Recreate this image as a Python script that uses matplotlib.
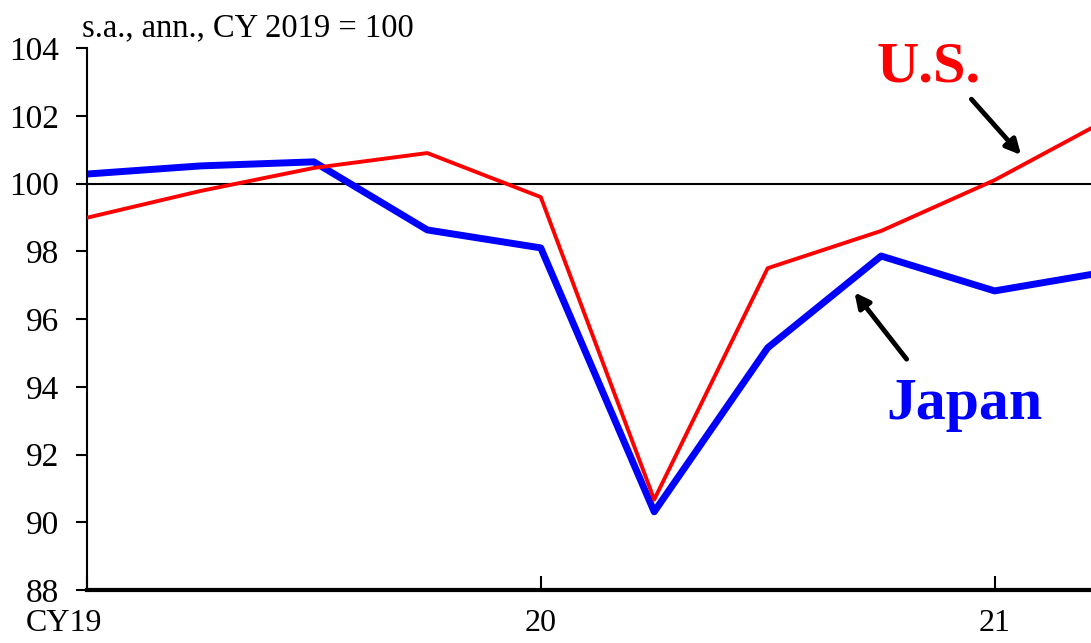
import numpy as np
import matplotlib.pyplot as plt
import matplotlib.transforms as mtransforms

plt.rcParams['font.family'] = ['Liberation Serif', 'DejaVu Serif']

# quarters from CY2019 Q1 to CY2021 Q2
quarters = np.arange(10)
japan = [100.28, 100.52, 100.64, 98.63, 98.1, 90.31, 95.15, 97.86, 96.83, 97.4]
us = [98.99, 99.78, 100.46, 100.9, 99.6, 90.67, 97.5, 98.6, 100.1, 101.9]
xtick_pos = [0, 4, 8]
xtick_labels = ['CY19', '20', '21']
yticks = np.arange(88, 105, 2)

fig = plt.figure(figsize=(10.91, 6.43), dpi=100)
ax = fig.add_axes([0.0797, 0.0824, 0.9203, 0.8429])

ax.axhline(100, color='black', lw=1.5, zorder=1)
ax.plot(quarters, us, color='#ff0000', lw=2.8, zorder=3)
ax.plot(quarters, japan, color='#0000ff', lw=5, zorder=2)

ax.set_xlim(0, 8.85)
ax.set_ylim(88, 104)
ax.set_yticks(yticks)
ax.set_xticks(xtick_pos)
ax.set_xticklabels(xtick_labels)

ax.spines['top'].set_visible(False)
ax.spines['right'].set_visible(False)
ax.spines['left'].set_linewidth(1.5)
ax.spines['bottom'].set_linewidth(3)

ax.tick_params(axis='y', direction='out', length=8, width=1.5, labelsize=24, pad=12)
ax.tick_params(axis='x', direction='in', length=10, width=1.5, labelsize=23, pad=14)

# "CY19" sits left of its tick in the original
lbl = ax.get_xticklabels()[0]
lbl.set_transform(lbl.get_transform() + mtransforms.ScaledTranslation(-23 / 100, 0, fig.dpi_scale_trans))

ax.text(-0.04, 104.15, 's.a., ann., CY 2019 = 100', fontsize=23.5, ha='left', va='bottom')

ax.text(7.42, 103.42, 'U.S.', color='#ff0000', fontsize=42, fontweight='bold', ha='center', va='center')
ax.annotate('', xy=(8.25, 100.78), xytext=(7.78, 102.55),
            arrowprops=dict(arrowstyle='-|>', color='black', lw=3.5, mutation_scale=22))

ax.text(7.73, 93.45, 'Japan', color='#0000ff', fontsize=43, fontweight='bold', ha='center', va='center')
ax.annotate('', xy=(6.75, 96.85), xytext=(7.24, 94.75),
            arrowprops=dict(arrowstyle='-|>', color='black', lw=3.5, mutation_scale=22))

fig.savefig('out.png', dpi=100)
